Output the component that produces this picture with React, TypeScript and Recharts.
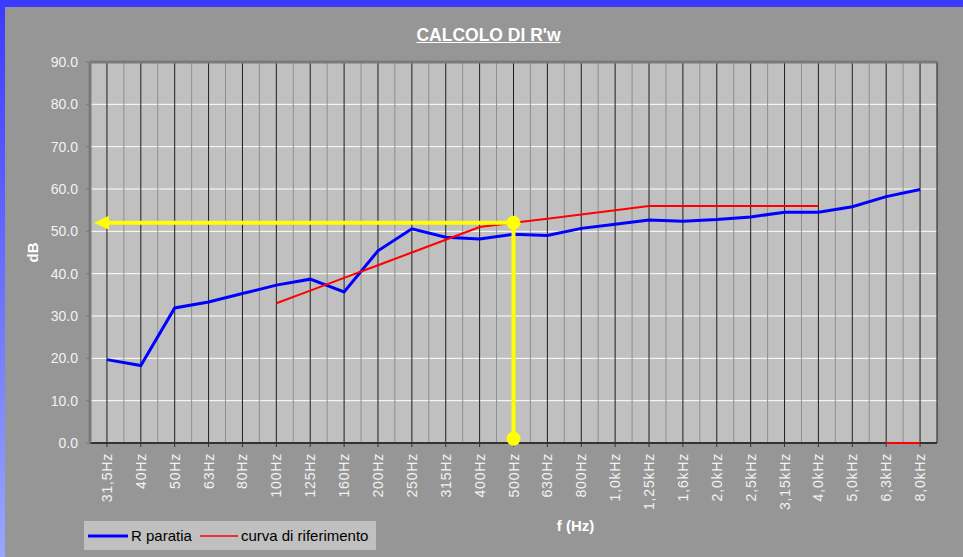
import React from 'react';
import {
	LineChart,
	Line,
	XAxis,
	YAxis,
	CartesianGrid,
	ReferenceLine,
	ReferenceDot,
	Legend,
	Label
} from 'recharts';

const FONT = '"Liberation Sans", Arial, sans-serif';

const frequencies = [
	'31,5Hz', '40Hz', '50Hz', '63Hz', '80Hz', '100Hz', '125Hz', '160Hz',
	'200Hz', '250Hz', '315Hz', '400Hz', '500Hz', '630Hz', '800Hz', '1,0kHz',
	'1,25kHz', '1,6kHz', '2,0kHz', '2,5kHz', '3,15kHz', '4,0kHz', '5,0kHz',
	'6,3kHz', '8,0kHz'
];

const rParatia = [
	19.7, 18.3, 31.9, 33.3, 35.3, 37.3, 38.7, 35.7, 45.4, 50.6, 48.6, 48.2,
	49.3, 49.0, 50.7, 51.7, 52.7, 52.4, 52.8, 53.4, 54.5, 54.5, 55.8, 58.2, 59.9
];

const curvaRiferimento = [
	null, null, null, null, null, 33, 36, 39, 42, 45, 48, 51, 52, 53, 54, 55,
	56, 56, 56, 56, 56, 56, null, 0, 0
];

const yTicks = [0, 10, 20, 30, 40, 50, 60, 70, 80, 90];

const rwValue = 52;
const rwFrequency = '500Hz';
const rwBottom = 1;

const data = frequencies.map((f, i) => ({
	f,
	rParatia: rParatia[i],
	curva: curvaRiferimento[i]
}));

const FreqTick = (props: any) => {
	const { x, y, payload } = props;
	return (
		<text
			transform={`translate(${x + 5},${y + 4}) rotate(-90)`}
			textAnchor="end"
			fill="#f2f2f2"
			fontSize={14}
			letterSpacing={0.8}
			fontFamily={FONT}
		>
			{payload.value}
		</text>
	);
};

const DbLabel = (props: any) => {
	const { viewBox } = props;
	const x = viewBox.x + 28;
	const y = viewBox.y + viewBox.height / 2;
	return (
		<text
			x={x}
			y={y}
			transform={`rotate(-90, ${x}, ${y})`}
			textAnchor="middle"
			fill="#ffffff"
			fontSize={15}
			fontWeight="bold"
			fontFamily={FONT}
		>
			dB
		</text>
	);
};

const FreqLabel = (props: any) => {
	const { viewBox } = props;
	return (
		<text
			x={viewBox.x + viewBox.width / 2 + 62}
			y={viewBox.y + 88}
			textAnchor="middle"
			fill="#ffffff"
			fontSize={15}
			fontWeight="bold"
			fontFamily={FONT}
		>
			f (Hz)
		</text>
	);
};

// horizontal yellow line with the arrow head pointing at the dB axis
const ArrowLine = (props: any) => {
	const { x1, y1, x2 } = props;
	const left = Math.min(x1, x2);
	const right = Math.max(x1, x2);
	const tip = left - 13;
	return (
		<g>
			<line x1={right} y1={y1} x2={left} y2={y1} stroke="#ffff00" strokeWidth={4} />
			<polygon
				points={`${tip},${y1} ${left + 2},${y1 - 7} ${left + 2},${y1 + 7}`}
				fill="#ffff00"
			/>
		</g>
	);
};

const renderLegend = (props: any) => {
	const { payload } = props;
	return (
		<div
			style={{
				background: '#c0c0c0',
				width: 292,
				height: 29,
				display: 'flex',
				alignItems: 'center',
				fontFamily: FONT,
				fontSize: 15,
				color: '#000'
			}}
		>
			{(payload || []).map((entry: any, i: number) => (
				<div key={i} style={{ display: 'flex', alignItems: 'center' }}>
					<svg width={i === 0 ? 46 : 44} height={10}>
						<line
							x1={4}
							x2={i === 0 ? 44 : 42}
							y1={5}
							y2={5}
							stroke={entry.color}
							strokeWidth={i === 0 ? 3 : 1.5}
						/>
					</svg>
					<span style={{ marginLeft: 1, marginRight: 4 }}>{entry.value}</span>
				</div>
			))}
		</div>
	);
};

export default function App() {
	return (
		<div
			style={{
				position: 'absolute',
				left: 0,
				top: 0,
				width: 963,
				height: 557,
				background: '#969696',
				overflow: 'hidden'
			}}
		>
			<div
				style={{
					position: 'absolute',
					left: 0,
					top: 0,
					width: 963,
					height: 7,
					background: '#3a3aff'
				}}
			/>
			<div
				style={{
					position: 'absolute',
					left: 0,
					top: 0,
					width: 5,
					height: 557,
					background: 'linear-gradient(#3a3aff, #9aa6ff)'
				}}
			/>
			<div
				style={{
					position: 'absolute',
					left: 0,
					top: 25,
					width: 977,
					textAlign: 'center',
					fontFamily: FONT,
					fontSize: 17.5,
					fontWeight: 'bold',
					color: '#ffffff',
					textDecoration: 'underline'
				}}
			>
				CALCOLO DI R'w
			</div>
			<div style={{ position: 'absolute', left: 0, top: 0 }}>
				<LineChart
					width={963}
					height={557}
					data={data}
					margin={{ top: 62, right: 26, bottom: 24, left: 10 }}
				>
					<CartesianGrid fill="#c0c0c0" stroke="#ffffff" vertical={false} />
					<CartesianGrid
						horizontal={false}
						stroke="#8f8f8f"
						verticalCoordinatesGenerator={({ offset }: any) =>
							frequencies
								.slice(1)
								.map((_, i) => offset.left + ((i + 1) * offset.width) / frequencies.length)
						}
					/>
					<CartesianGrid horizontal={false} stroke="#1e1e1e" />
					<XAxis
						dataKey="f"
						scale="band"
						interval={0}
						height={90}
						tick={<FreqTick />}
						tickSize={4}
						tickLine={{ stroke: '#333333' }}
						axisLine={{ stroke: '#333333', strokeWidth: 2 }}
					>
						<Label content={<FreqLabel />} />
					</XAxis>
					<YAxis
						width={80}
						domain={[0, 90]}
						ticks={yTicks}
						tickFormatter={(v: number) => v.toFixed(1)}
						tick={{ fill: '#f2f2f2', fontSize: 14, fontFamily: FONT }}
						tickSize={4}
						tickMargin={8}
						tickLine={{ stroke: '#7a7a7a' }}
						axisLine={{ stroke: '#7a7a7a', strokeWidth: 3 }}
					>
						<Label content={<DbLabel />} />
					</YAxis>
					<YAxis
						yAxisId="frame"
						orientation="right"
						width={0}
						tick={false}
						tickLine={false}
						axisLine={{ stroke: '#7a7a7a', strokeWidth: 3 }}
					/>
					<ReferenceLine y={90} stroke="#7a7a7a" strokeWidth={3} />
					<Line
						name="R paratia"
						type="linear"
						dataKey="rParatia"
						stroke="#0000ff"
						strokeWidth={3}
						dot={false}
						activeDot={false}
						isAnimationActive={false}
					/>
					<Line
						name="curva di riferimento"
						type="linear"
						dataKey="curva"
						stroke="#ff0000"
						strokeWidth={2}
						dot={false}
						activeDot={false}
						isAnimationActive={false}
						zIndex={900}
					/>
					<ReferenceLine
						segment={[
							{ x: rwFrequency, y: rwValue },
							{ x: frequencies[0], y: rwValue }
						]}
						shape={<ArrowLine />}
						zIndex={950}
					/>
					<ReferenceLine
						segment={[
							{ x: rwFrequency, y: rwValue },
							{ x: rwFrequency, y: 0 }
						]}
						stroke="#ffff00"
						strokeWidth={4}
						zIndex={950}
					/>
					<ReferenceDot x={rwFrequency} y={rwValue} r={7} fill="#ffff00" stroke="none" zIndex={1000} />
					<ReferenceDot x={rwFrequency} y={rwBottom} r={7} fill="#ffff00" stroke="none" zIndex={1000} />
					<Legend
						layout="vertical"
						verticalAlign="middle"
						align="center"
						content={renderLegend}
						wrapperStyle={{ left: 84, top: 521, width: 292, height: 29 }}
					/>
				</LineChart>
			</div>
		</div>
	);
}
